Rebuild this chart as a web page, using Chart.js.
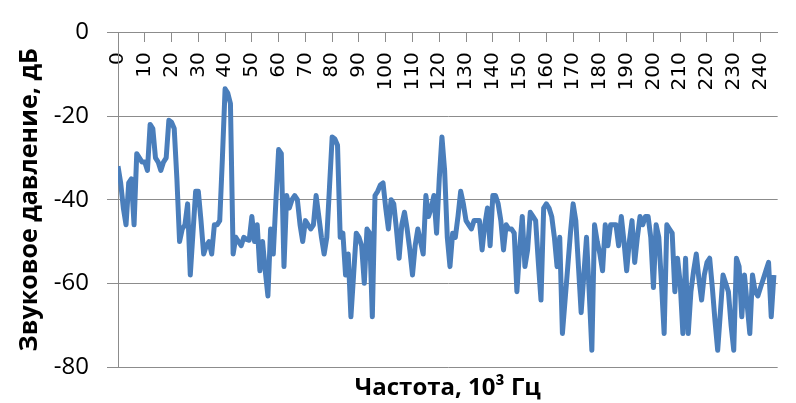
<!DOCTYPE html>
<html>
<head>
<meta charset="utf-8">
<script src="https://cdn.jsdelivr.net/npm/chart.js@4/dist/chart.umd.min.js"></script>
<style>
  html, body { margin: 0; padding: 0; background: #fff; }
  canvas { display: block; }
</style>
</head>
<body>
<canvas id="spectrum" width="796" height="403"></canvas>
<script>
// звуковое давление, дБ, по частотам 0..245 (x 10^3 Гц)
const pressure = [
    -32, -36, -42, -46, -36, -35, -46, -29, -30, -31,
    -31, -33, -22, -23, -30, -31, -33, -31, -30, -21,
    -21.5, -23, -35, -50, -47, -46, -41, -58, -48, -38,
    -38, -45, -53, -51, -50, -53, -46, -46, -45, -30,
    -13.5, -14.5, -17, -53, -49, -50, -51, -49, -49.5, -49.7,
    -44, -50, -46, -57, -50, -57, -63, -47, -53, -40,
    -28, -29, -56, -39, -42, -40, -39, -40, -46, -50,
    -45, -46, -47, -46, -39, -44, -49, -53, -49, -37,
    -25, -25.5, -27, -49, -48, -58, -53, -68, -58, -48,
    -49, -51, -60, -47, -48, -68, -39, -38, -36.5, -36,
    -42, -47, -40, -41, -47, -54, -46, -43, -47, -52,
    -58, -51, -47, -50, -53, -39, -44, -42, -39, -48,
    -35, -25, -33, -49, -56, -48, -49, -44, -38, -41,
    -45, -46, -47, -45, -45, -45, -52, -46, -42, -51,
    -39, -39, -41, -45, -52, -46, -47, -47, -48, -62,
    -52, -44, -56, -52, -43, -44, -45, -55, -64, -42,
    -41, -42, -44, -49, -56, -49, -72, -64, -56, -48,
    -41, -45, -56, -67, -58, -49, -62, -76, -46, -50,
    -53, -57, -46, -51, -46, -46, -46, -51, -44, -50,
    -57, -50, -45, -55, -49, -44, -46, -44, -44, -49,
    -61, -46, -49, -60, -72, -46, -47, -48, -62, -54,
    -60, -72, -54, -72, -62, -57, -53, -59, -64, -58,
    -55, -54, -61, -69, -76, -67, -58, -60, -62, -70,
    -76, -54, -56, -68, -58, -65, -72, -58, -62, -63,
    -61, -59, -57, -55, -68, -58
];
const freq = pressure.map((_, i) => i);
const yTicks = [-80, -60, -40, -20, 0];

const gridColor = "#8c8c8c";

const ctx = document.getElementById("spectrum").getContext("2d");
new Chart(ctx, {
    type: "line",
    data: {
        labels: freq,
        datasets: [{
            data: pressure,
            borderColor: "#4a7ebb",
            borderWidth: 5,
            pointRadius: 0,
            tension: 0,
            borderJoinStyle: "round",
            fill: false
        }]
    },
    options: {
        responsive: false,
        animation: false,
        layout: { padding: { top: 28, right: 0, bottom: 0, left: 0 } },
        plugins: {
            legend: { display: false },
            tooltip: { enabled: false }
        },
        scales: {
            x: {
                type: "linear",
                position: { y: 0 },
                min: 0,
                max: 246.4,
                ticks: {
                    stepSize: 10,
                    includeBounds: false,
                    autoSkip: false,
                    minRotation: 90,
                    maxRotation: 90,
                    padding: 11,
                    color: "#000",
                    font: { family: "DejaVu Sans", size: 20 }
                },
                grid: { drawOnChartArea: false, drawTicks: true, tickLength: 9, color: gridColor },
                border: { display: true, color: gridColor }
            },
            xb: {
                type: "linear",
                axis: "x",
                position: "bottom",
                display: true,
                ticks: { display: false },
                grid: { display: false, drawTicks: false },
                border: { display: false },
                title: {
                    display: true,
                    text: "Частота, 10³ Гц",
                    color: "#000",
                    font: { family: "Open Sans", weight: "bold", size: 24 },
                    padding: { top: 0, bottom: 0 }
                },
                afterFit: (s) => { s.height = 36; }
            },
            y: {
                min: -80,
                max: 0,
                afterBuildTicks: (s) => { s.ticks = yTicks.map(v => ({ value: v })); },
                ticks: {
                    padding: 18,
                    color: "#000",
                    font: { family: "Open Sans", size: 24 }
                },
                grid: { color: gridColor, tickLength: 11 },
                border: { color: gridColor },
                title: {
                    display: true,
                    text: "Звуковое давление, дБ",
                    color: "#000",
                    font: { family: "Open Sans", weight: "bold", size: 25 },
                    padding: { top: 15, bottom: 0 }
                },
                afterFit: (s) => { s.width = 118; }
            }
        }
    }
});
</script>
</body>
</html>
